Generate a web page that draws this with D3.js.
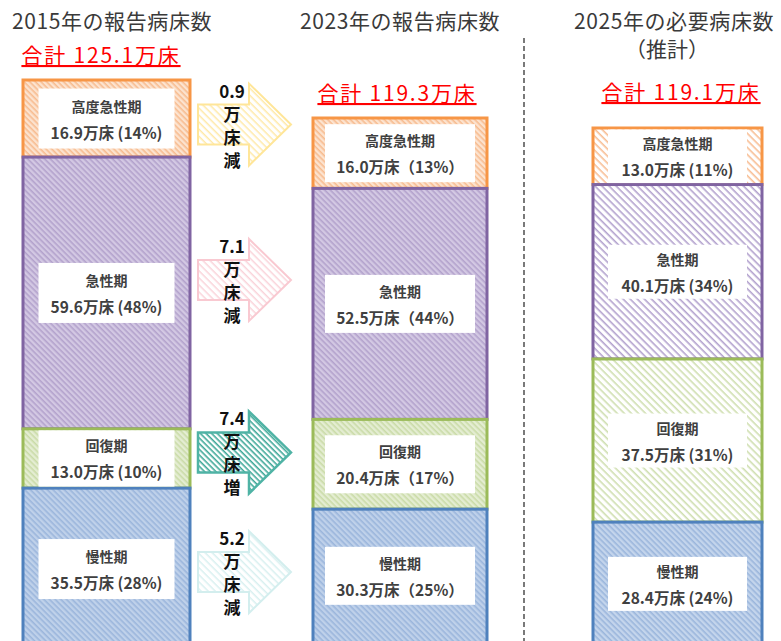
<!DOCTYPE html>
<html>
<head>
<meta charset="utf-8">
<script src="https://cdn.jsdelivr.net/npm/d3@7"></script>
<style>
  body { margin: 0; background: #fff; }
  svg text { font-family: "Noto Sans CJK JP", "Noto Sans", sans-serif; }
</style>
</head>
<body>
<div class="chart"></div>
<script>
// data
const categories = ["高度急性期", "急性期", "回復期", "慢性期"];
const years = ["2015年の報告病床数", "2023年の報告病床数", "2025年の必要病床数"];
const subTitles = ["", "", "（推計）"];
const totals = [125.1, 119.3, 119.1];
const beds2015 = [16.9, 59.6, 13.0, 35.5];
const beds2023 = [16.0, 52.5, 20.4, 30.3];
const beds2025 = [13.0, 40.1, 37.5, 28.4];
const pct2015 = [14, 48, 10, 28];
const pct2023 = [13, 44, 17, 25];
const pct2025 = [11, 34, 31, 24];

const series = [
  {beds: beds2015, pct: pct2015, fmt: (b, p) => `${b.toFixed(1)}万床 (${p}%)`},
  {beds: beds2023, pct: pct2023, fmt: (b, p) => `${b.toFixed(1)}万床（${p}%）`},
  {beds: beds2025, pct: pct2025, fmt: (b, p) => `${b.toFixed(1)}万床 (${p}%)`}
];

// layout
const W = 781, H = 641;
const cols = [
  {left: 23, width: 167, top: 80, k: 4.56, boxW: 136, boxH: 60, titleX: 112, sumX: 101, sumY: 63, hatch: "dense"},
  {left: 313, width: 174, top: 118, k: 4.40, boxW: 150, boxH: 58, titleX: 400, sumX: 397, sumY: 101, hatch: "dense"},
  {left: 593, width: 169, top: 128, k: 4.35, boxW: 139, boxH: 54, titleX: 674, sumX: 681, sumY: 100, hatch: "light"}
];
const strokes = ["#F79646", "#8064A2", "#9BBB59", "#4F81BD"];
const denseBg = ["#FCE3CF", "#D3C8E3", "#E4EDD2", "#BFD1EA"];
const denseLine = ["#F7BC90", "#B3A2CC", "#CADBA8", "#9BB6DC"];
const lightLine = ["#F8BE94", "#B3A2CE", "#CFDFB0", "#9BB6DC"];
const lightBg = ["#FFFFFF", "#FFFFFF", "#FFFFFF", "#C4D5EC"];

const arrowStroke = ["#FFE699", "#F9C9D1", "#4FB3A5", "#D3EEEE"];
const arrowLine = ["#FFE9A8", "#FAD3DA", "#3FA898", "#D8F0F0"];
const arrowOffset = [6, -13, -6, 3];

const svg = d3.select(".chart").append("svg")
  .attr("width", W).attr("height", H);

const defs = svg.append("defs");
function hatch(id, bg, line, size, lw) {
  const p = defs.append("pattern")
    .attr("id", id)
    .attr("patternUnits", "userSpaceOnUse")
    .attr("width", size).attr("height", size)
    .attr("patternTransform", "rotate(45)");
  p.append("rect").attr("width", size).attr("height", size).attr("fill", bg);
  p.append("rect").attr("y", 0).attr("width", size).attr("height", lw).attr("fill", line);
}
categories.forEach((c, i) => {
  hatch("d" + i, denseBg[i], denseLine[i], 4, 1.6);
  hatch("l" + i, lightBg[i], lightLine[i], i === 3 ? 4 : 5, 1.6);
  hatch("a" + i, "#fff", arrowLine[i], i === 2 ? 4 : 5, i === 2 ? 1.6 : 1.5);
});

// titles
years.forEach((t, j) => {
  const c = cols[j];
  svg.append("text")
    .attr("x", c.titleX).attr("y", 29)
    .attr("text-anchor", "middle")
    .attr("font-size", 21)
    .attr("letter-spacing", 0.6)
    .attr("fill", "#3a3a3a")
    .text(t);
  if (subTitles[j]) {
    svg.append("text")
      .attr("x", c.titleX - 7).attr("y", 57)
      .attr("text-anchor", "middle")
      .attr("font-size", 21)
      .attr("fill", "#3a3a3a")
      .text(subTitles[j]);
  }
  svg.append("text")
    .attr("x", c.sumX).attr("y", c.sumY)
    .attr("text-anchor", "middle")
    .attr("font-size", 21)
    .attr("letter-spacing", 1.8)
    .attr("fill", "#FF0000")
    .attr("text-decoration", "underline")
    .text(`合計 ${totals[j].toFixed(1)}万床`);
});

// dashed separator
svg.append("line")
  .attr("x1", 524).attr("x2", 524)
  .attr("y1", 38).attr("y2", H)
  .attr("stroke", "#222").attr("stroke-width", 1.2)
  .attr("stroke-dasharray", "5,3");

// stacked columns
const segMids = [];
series.forEach((s, j) => {
  const c = cols[j];
  const y = d3.scaleLinear()
    .domain([0, totals[j]])
    .range([c.top, c.top + totals[j] * c.k]);
  const stacked = d3.cumsum(s.beds);
  const g = svg.append("g");
  const mids = [];
  s.beds.forEach((b, i) => {
    const y0 = y(stacked[i] - b), y1 = y(stacked[i]);
    mids.push((y0 + y1) / 2);
    g.append("rect")
      .attr("x", c.left).attr("y", y0)
      .attr("width", c.width).attr("height", y1 - y0)
      .attr("fill", `url(#${c.hatch === "dense" ? "d" : "l"}${i})`)
      .attr("stroke", strokes[i]).attr("stroke-width", 3);
  });
  s.beds.forEach((b, i) => {
    const y0 = y(stacked[i] - b), y1 = y(stacked[i]);
    const bh = Math.min(c.boxH, y1 - y0 - 3);
    const cx = c.left + c.width / 2, cy = (y0 + y1) / 2;
    g.append("rect")
      .attr("x", cx - c.boxW / 2).attr("y", cy - bh / 2)
      .attr("width", c.boxW).attr("height", bh)
      .attr("fill", "#fff");
    g.append("text")
      .attr("x", cx).attr("y", cy - 7)
      .attr("text-anchor", "middle")
      .attr("font-size", 14).attr("font-weight", "bold")
      .attr("fill", "#404040")
      .text(categories[i]);
    g.append("text")
      .attr("x", cx).attr("y", cy + 20)
      .attr("text-anchor", "middle")
      .attr("font-size", 15.5).attr("font-weight", "bold")
      .attr("fill", "#404040")
      .text(s.fmt(b, s.pct[i]));
  });
  segMids.push(mids);
});

// change arrows between 2015 and 2023
const arrowX0 = 198, arrowXHead = 249, arrowXTip = 291;
categories.forEach((c, i) => {
  const diff = +(beds2015[i] - beds2023[i]).toFixed(1);
  const cy = segMids[0][i] + arrowOffset[i];
  const pts = [
    [arrowX0, cy - 20], [arrowXHead, cy - 20], [arrowXHead, cy - 41],
    [arrowXTip, cy], [arrowXHead, cy + 41], [arrowXHead, cy + 20], [arrowX0, cy + 20]
  ];
  svg.append("polygon")
    .attr("points", pts.map(p => p.join(",")).join(" "))
    .attr("fill", `url(#a${i})`)
    .attr("stroke", arrowStroke[i])
    .attr("stroke-width", i === 2 ? 2.5 : 2);
  const words = [Math.abs(diff).toFixed(1), "万", "床", diff > 0 ? "減" : "増"];
  words.forEach((w, k) => {
    svg.append("text")
      .attr("x", 232).attr("y", cy - 27 + k * 23)
      .attr("text-anchor", "middle")
      .attr("font-size", 17).attr("font-weight", "bold")
      .attr("fill", "#111")
      .text(w);
  });
});
</script>
</body>
</html>
